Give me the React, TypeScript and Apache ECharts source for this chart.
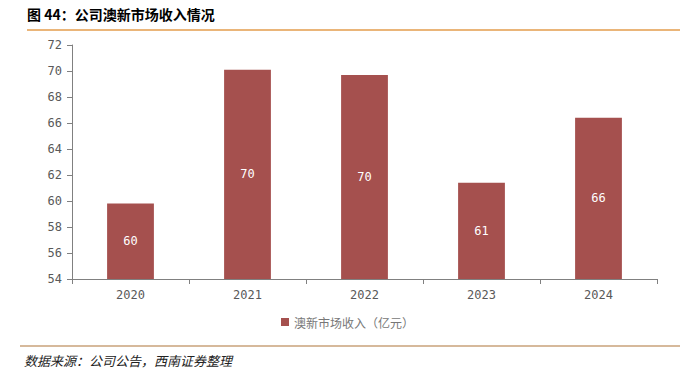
import React, { useEffect, useRef } from "react";
import * as echarts from "echarts";

const categories = ["2020", "2021", "2022", "2023", "2024"];
const revenue = [59.8, 70.1, 69.7, 61.4, 66.4];
const seriesName = "澳新市场收入（亿元）";
const titleText = "图 44：公司澳新市场收入情况";
const sourceText = "数据来源：公司公告，西南证券整理";

export default function App() {
  const ref = useRef<HTMLDivElement>(null);
  useEffect(() => {
    document.body.style.margin = "0";
    const chart = echarts.init(ref.current!, null, { renderer: "svg" });
    chart.setOption({
      animation: false,
      backgroundColor: "#ffffff",
      grid: { left: 72, right: 38, top: 45, bottom: 98 },
      legend: {
        data: [seriesName],
        bottom: 44,
        left: "center",
        icon: "rect",
        itemWidth: 8,
        itemHeight: 8,
        itemGap: 4,
        textStyle: { color: "#777", fontSize: 12, fontFamily: "Noto Sans CJK SC" },
      },
      xAxis: {
        type: "category",
        data: categories,
        axisLine: { lineStyle: { color: "#808080" } },
        axisTick: { show: true, alignWithLabel: false, lineStyle: { color: "#808080" } },
        axisLabel: { color: "#595959", fontSize: 12, fontFamily: "DejaVu Sans Mono", margin: 10 },
      },
      yAxis: {
        type: "value",
        min: 54,
        max: 72,
        interval: 2,
        splitLine: { show: false },
        axisLine: { show: true, lineStyle: { color: "#808080" } },
        axisTick: { show: true, lineStyle: { color: "#808080" } },
        axisLabel: { color: "#595959", fontSize: 12, fontFamily: "DejaVu Sans Mono", margin: 10 },
      },
      series: [
        {
          name: seriesName,
          type: "bar",
          data: revenue,
          barWidth: "40%",
          itemStyle: { color: "#A5504E" },
          label: {
            show: true,
            position: "inside",
            color: "#ffffff",
            fontSize: 12,
            fontFamily: "DejaVu Sans Mono",
            formatter: (p: any) => Math.round(p.value).toString(),
          },
        },
      ],
      graphic: [
        {
          type: "text",
          left: 27,
          top: 7,
          style: { text: titleText, fontSize: 14, fontWeight: "bold", fill: "#000", fontFamily: "Noto Sans CJK SC" },
        },
        {
          type: "line",
          shape: { x1: 27, y1: 30, x2: 680, y2: 30 },
          style: { stroke: "#E39D4C", lineWidth: 1.5 },
        },
        {
          type: "line",
          shape: { x1: 20, y1: 346, x2: 680, y2: 346 },
          style: { stroke: "#C9A27A", lineWidth: 1.5 },
        },
        {
          type: "text",
          left: 24,
          top: 354,
          style: { text: sourceText, fontSize: 13, fontStyle: "italic", fill: "#222", fontFamily: "Noto Sans CJK SC" },
        },
      ],
    });
    return () => chart.dispose();
  }, []);
  return <div ref={ref} style={{ width: 695, height: 377 }} />;
}
